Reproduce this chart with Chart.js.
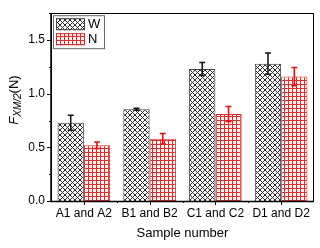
<!DOCTYPE html>
<html lang="en">
<head>
  <meta charset="UTF-8" />
  <title>Sample number chart</title>
  <script src="https://cdn.jsdelivr.net/npm/chart.js"></script>
  <style>
    html, body { margin: 0; padding: 0; background: #fff; }
    #wrap { width: 320px; height: 248px; position: relative; }
  </style>
</head>
<body>
  <div id="wrap"><canvas id="forceChart"></canvas></div>

  <script>
    const categories = ['A1 and A2', 'B1 and B2', 'C1 and C2', 'D1 and D2'];
    const seriesNames = ['W', 'N'];
    const valuesW = [0.73, 0.855, 1.23, 1.28];
    const errorsW = [0.07, 0.01, 0.06, 0.10];
    const valuesN = [0.52, 0.58, 0.81, 1.16];
    const errorsN = [0.03, 0.05, 0.07, 0.085];
    const yTicks = [0.0, 0.5, 1.0, 1.5];
    const yMinorTicks = [0.25, 0.75, 1.25, 1.75];

    const FONT = '"Liberation Sans", Arial, sans-serif';

    function makePattern(kind) {
      const c = document.createElement('canvas');
      const size = kind === 'cross' ? 5 : 4;
      c.width = size; c.height = size;
      const g = c.getContext('2d');
      g.fillStyle = '#fff';
      g.fillRect(0, 0, size, size);
      if (kind === 'cross') {
        g.strokeStyle = '#2a2a2a';
        g.lineWidth = 1;
        g.beginPath();
        g.moveTo(0, 0); g.lineTo(size, size);
        g.moveTo(size, 0); g.lineTo(0, size);
        g.stroke();
      } else {
        g.fillStyle = '#d23434';
        g.fillRect(0, 0, size, 1);
        g.fillRect(0, 0, 1, size);
      }
      return g.createPattern(c, 'repeat');
    }

    const patW = makePattern('cross');
    const patN = makePattern('grid');

    // frame, ticks, error bars, legend and axis titles
    const decor = {
      id: 'decor',
      afterDatasetsDraw(chart) {
        const ctx = chart.ctx;
        const a = chart.chartArea;
        const xs = chart.scales.x;
        const ys = chart.scales.y;

        // error bars
        [[valuesW, errorsW, '#111', 0], [valuesN, errorsN, '#e01010', 1]].forEach(([vals, errs, col, di]) => {
          const meta = chart.getDatasetMeta(di);
          ctx.save();
          ctx.strokeStyle = col;
          ctx.lineWidth = 1.5;
          vals.forEach((v, i) => {
            const x = meta.data[i].x;
            const yt = ys.getPixelForValue(v + errs[i]);
            const yb = ys.getPixelForValue(v - errs[i]);
            ctx.beginPath();
            ctx.moveTo(x, yt); ctx.lineTo(x, yb);
            ctx.moveTo(x - 3, yt); ctx.lineTo(x + 3, yt);
            ctx.moveTo(x - 3, yb); ctx.lineTo(x + 3, yb);
            ctx.stroke();
          });
          ctx.restore();
        });

        // frame
        ctx.save();
        ctx.strokeStyle = '#000';
        ctx.lineWidth = 1;
        ctx.strokeRect(Math.round(a.left) + 0.5, Math.round(a.top) + 0.5,
          Math.round(a.right - a.left) - 1, Math.round(a.bottom - a.top));
        ctx.lineWidth = 1.5;
        ctx.beginPath();
        ctx.moveTo(a.left, a.top); ctx.lineTo(a.left, a.bottom + 0.5);
        ctx.lineTo(a.right, a.bottom + 0.5);
        ctx.stroke();

        // y ticks
        ctx.lineWidth = 1;
        yTicks.forEach(t => {
          const y = Math.round(ys.getPixelForValue(t)) + 0.5;
          ctx.beginPath(); ctx.moveTo(a.left - 4, y); ctx.lineTo(a.left, y); ctx.stroke();
        });
        yMinorTicks.forEach(t => {
          const y = Math.round(ys.getPixelForValue(t)) + 0.5;
          ctx.beginPath(); ctx.moveTo(a.left - 2, y); ctx.lineTo(a.left, y); ctx.stroke();
        });
        // x ticks
        categories.forEach((c, i) => {
          const x = Math.round(xs.getPixelForValue(i)) + 0.5;
          ctx.beginPath(); ctx.moveTo(x, a.bottom); ctx.lineTo(x, a.bottom + 4); ctx.stroke();
          if (i > 0) {
            const xm = Math.round((xs.getPixelForValue(i) + xs.getPixelForValue(i - 1)) / 2) + 0.5;
            ctx.beginPath(); ctx.moveTo(xm, a.bottom); ctx.lineTo(xm, a.bottom + 2); ctx.stroke();
          }
        });

        // legend
        const lx = a.left + 2, ly = a.top + 2;
        ctx.fillStyle = '#fff';
        ctx.fillRect(lx, ly, 51, 33);
        ctx.strokeStyle = '#666';
        ctx.strokeRect(lx + 0.5, ly + 0.5, 51, 33);
        [[patW, '#444'], [patN, '#c03030']].forEach(([p, b], i) => {
          const sy = ly + 3 + i * 15;
          ctx.fillStyle = p;
          ctx.fillRect(lx + 3, sy, 29, 12);
          ctx.strokeStyle = b;
          ctx.strokeRect(lx + 3.5, sy + 0.5, 28, 11);
          ctx.fillStyle = '#000';
          ctx.font = '13px ' + FONT;
          ctx.textBaseline = 'middle';
          ctx.textAlign = 'left';
          ctx.fillText(seriesNames[i], lx + 35, sy + 6.5);
        });

        // x title
        ctx.fillStyle = '#000';
        ctx.font = '13px ' + FONT;
        ctx.textAlign = 'center';
        ctx.textBaseline = 'middle';
        ctx.fillText('Sample number', (a.left + a.right) / 2, 233);

        // y title: F_XM/2(N)
        ctx.translate(13, 100);
        ctx.rotate(-Math.PI / 2);
        ctx.textAlign = 'left';
        ctx.textBaseline = 'alphabetic';
        const parts = [['italic 13px ' + FONT, 'F', 0], ['italic 10px ' + FONT, 'XM/2', 3], ['13px ' + FONT, '(N)', 0]];
        let w = 0;
        parts.forEach(p => { ctx.font = p[0]; w += ctx.measureText(p[1]).width; });
        let x0 = -w / 2;
        parts.forEach(p => {
          ctx.font = p[0];
          ctx.fillText(p[1], x0, 5 + p[2]);
          x0 += ctx.measureText(p[1]).width;
        });
        ctx.restore();
      }
    };

    new Chart(document.getElementById('forceChart'), {
      type: 'bar',
      data: {
        labels: categories,
        datasets: [
          { label: seriesNames[0], data: valuesW, backgroundColor: patW, borderColor: '#444', borderWidth: 1 },
          { label: seriesNames[1], data: valuesN, backgroundColor: patN, borderColor: '#c83030', borderWidth: 1 }
        ]
      },
      options: {
        responsive: true,
        maintainAspectRatio: false,
        animation: false,
        layout: { padding: { left: 0, right: 6, top: 8, bottom: 0 } },
        plugins: { legend: { display: false }, tooltip: { enabled: false } },
        datasets: { bar: { categoryPercentage: 0.8, barPercentage: 1.0 } },
        scales: {
          x: {
            grid: { display: false, drawTicks: false },
            border: { display: false },
            ticks: { color: '#000', font: { family: FONT, size: 12 }, padding: 5, maxRotation: 0, autoSkip: false },
            afterFit(s) { s.height = 47; }
          },
          y: {
            min: 0,
            max: 1.75,
            grid: { display: false, drawTicks: false },
            border: { display: false },
            afterBuildTicks(s) { s.ticks = yTicks.map(v => ({ value: v })); },
            ticks: {
              color: '#000',
              font: { family: FONT, size: 12 },
              padding: 6,
              callback: v => v.toFixed(1)
            },
            afterFit(s) { s.width = 51; }
          }
        }
      },
      plugins: [decor]
    });
  </script>
</body>
</html>
